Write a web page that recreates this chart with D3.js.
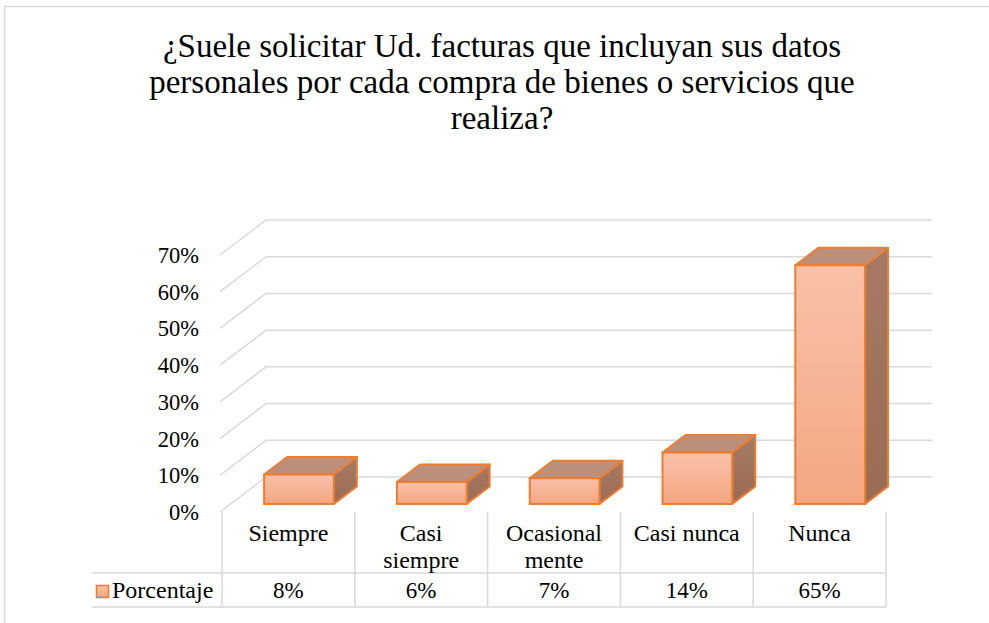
<!DOCTYPE html>
<html>
<head>
<meta charset="utf-8">
<script src="https://cdn.jsdelivr.net/npm/d3@7"></script>
<style>
  body { margin: 0; background: #fff; }
</style>
</head>
<body>
<div id="root"></div>
<script>
// data
let categories = ["Siempre", "Casi siempre", "Ocasionalmente", "Casi nunca", "Nunca"];
let catLines = [["Siempre"], ["Casi", "siempre"], ["Ocasional", "mente"], ["Casi nunca"], ["Nunca"]];
let values = [0.08, 0.06, 0.07, 0.14, 0.65];
let valueLabels = ["8%", "6%", "7%", "14%", "65%"];
let yTicks = [0, 0.1, 0.2, 0.3, 0.4, 0.5, 0.6, 0.7];
let seriesName = "Porcentaje";
let titleLines = ["¿Suele solicitar Ud. facturas que incluyan sus datos",
  "personales por cada compra de bienes o servicios que", "realiza?"];

//DIMENSIONS
let width = 989, height = 623;
let depthX = 46, depthY = -35;   // full floor depth offset
let barFront = 0.23, barDepth = 0.5;
let serif = "Liberation Serif";

let svg = d3.select('#root').append('svg')
  .attr('width', width).attr('height', height);

let defs = svg.append('defs');
let grad = defs.append('linearGradient').attr('id', 'frontGrad')
  .attr('x1', 0).attr('y1', 0).attr('x2', 0).attr('y2', 1);
grad.append('stop').attr('offset', '0%').attr('stop-color', '#f9c1a8');
grad.append('stop').attr('offset', '100%').attr('stop-color', '#f4a682');
let sideGrad = defs.append('linearGradient').attr('id', 'sideGrad')
  .attr('x1', 0).attr('y1', 0).attr('x2', 0).attr('y2', 1);
sideGrad.append('stop').attr('offset', '0%').attr('stop-color', '#a57a64');
sideGrad.append('stop').attr('offset', '100%').attr('stop-color', '#9b6c55');

// chart border
svg.append('path').attr('d', `M4.5,${height} V6.5 H${width}`)
  .attr('fill', 'none').attr('stroke', '#d9d9d9').attr('stroke-width', 1.5);

// title
svg.append('g').selectAll('text').data(titleLines).enter().append('text')
  .attr('x', 502).attr('y', (d, i) => 57 + i * 36)
  .attr('text-anchor', 'middle').attr('font-family', serif).attr('font-size', 33)
  .text(d => d);

// scales (front plane)
let x = d3.scaleBand().domain(categories).range([222, 886]);
let y = d3.scaleLinear().domain([0, 0.7]).range([512, 255]);
let proj = (px, py, dep) => [px + dep * depthX, py + dep * depthY];

// gridlines + diagonal wall lines
let grid = svg.append('g');
yTicks.forEach(t => {
  let a = proj(220, y(t), 0), b = proj(220, y(t), 1);
  grid.append('path')
    .attr('d', `M${a[0]},${a[1]} L${b[0]},${b[1]} H${x.range()[1] + depthX}`)
    .attr('fill', 'none').attr('stroke', '#d9d9d9').attr('stroke-width', 1.5);
});

// y axis labels
svg.append('g').selectAll('text').data(yTicks).enter().append('text')
  .attr('x', 199).attr('y', d => y(d) + 8)
  .attr('text-anchor', 'end').attr('font-family', serif).attr('font-size', 22.5)
  .text(d3.format('.0%'));

// 3d bars
let bw = x.bandwidth() * 0.525;
let bars = svg.append('g').selectAll('g').data(categories).enter().append('g');
bars.each(function (c, i) {
  let g = d3.select(this);
  let cx = x(c) + x.bandwidth() / 2;
  let f0 = proj(cx - bw / 2, y(0), barFront);
  let f1 = proj(cx + bw / 2, y(values[i]), barFront);
  let x0 = f0[0], x1 = f1[0], yb = f0[1], yt = f1[1];
  let dx = barDepth * depthX, dy = barDepth * depthY;
  let stroke = '#ed7d31';
  // side
  g.append('path')
    .attr('d', `M${x1},${yt} L${x1 + dx},${yt + dy} L${x1 + dx},${yb + dy} L${x1},${yb} Z`)
    .attr('fill', 'url(#sideGrad)').attr('stroke', stroke).attr('stroke-width', 2).attr('stroke-linejoin', 'round');
  // top
  g.append('path')
    .attr('d', `M${x0},${yt} L${x0 + dx},${yt + dy} L${x1 + dx},${yt + dy} L${x1},${yt} Z`)
    .attr('fill', '#bc8f7a').attr('stroke', stroke).attr('stroke-width', 2).attr('stroke-linejoin', 'round');
  // front
  g.append('rect')
    .attr('x', x0).attr('y', yt).attr('width', x1 - x0).attr('height', yb - yt)
    .attr('fill', 'url(#frontGrad)').attr('stroke', stroke).attr('stroke-width', 2);
});

// data table
let tbl = svg.append('g');
let rowTop = 512, rowMid = 573, rowBot = 607, tblLeft = 92;
let lineC = '#d9d9d9';
x.domain().concat(['end']).forEach((c, i) => {
  let xx = i < categories.length ? x(c) : x.range()[1];
  tbl.append('line').attr('x1', xx).attr('x2', xx).attr('y1', rowTop).attr('y2', rowBot)
    .attr('stroke', lineC).attr('stroke-width', 1.5);
});
[rowMid, rowBot].forEach(yy => {
  tbl.append('line').attr('x1', tblLeft).attr('x2', x.range()[1]).attr('y1', yy).attr('y2', yy)
    .attr('stroke', lineC).attr('stroke-width', 1.5);
});
categories.forEach((c, i) => {
  let cx = x(c) + x.bandwidth() / 2;
  catLines[i].forEach((ln, j) => {
    tbl.append('text').attr('x', cx).attr('y', 541 + j * 27)
      .attr('text-anchor', 'middle').attr('font-family', serif).attr('font-size', 24).text(ln);
  });
  tbl.append('text').attr('x', cx).attr('y', 598)
    .attr('text-anchor', 'middle').attr('font-family', serif).attr('font-size', 23).text(valueLabels[i]);
});
// legend key
tbl.append('rect').attr('x', 96.5).attr('y', 585.5).attr('width', 12).attr('height', 12)
  .attr('fill', 'url(#frontGrad)').attr('stroke', '#ed7d31').attr('stroke-width', 1.5);
tbl.append('text').attr('x', 112).attr('y', 598)
  .attr('font-family', serif).attr('font-size', 24).text(seriesName);
</script>
</body>
</html>
